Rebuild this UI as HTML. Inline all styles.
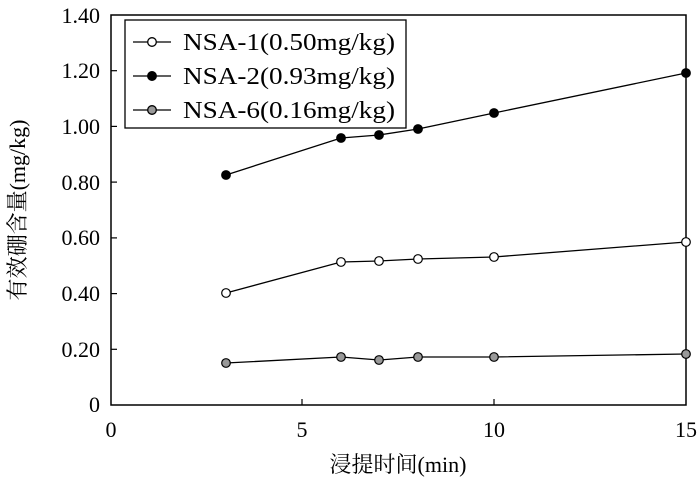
<!DOCTYPE html>
<html><head><style>body{margin:0;background:#fff}</style></head><body>
<svg width="700" height="481" xmlns="http://www.w3.org/2000/svg" font-family="Liberation Serif, Noto Serif CJK SC, serif" font-size="22">
<rect x="111" y="15" width="575" height="390" fill="none" stroke="#000" stroke-width="1.5"/>
<g stroke="#000" stroke-width="1.2">
<line x1="111" y1="349.3" x2="117" y2="349.3"/><line x1="111" y1="293.6" x2="117" y2="293.6"/>
<line x1="111" y1="237.9" x2="117" y2="237.9"/><line x1="111" y1="182.1" x2="117" y2="182.1"/>
<line x1="111" y1="126.4" x2="117" y2="126.4"/><line x1="111" y1="70.7" x2="117" y2="70.7"/>
<line x1="302" y1="405" x2="302" y2="399"/><line x1="494" y1="405" x2="494" y2="399"/>
</g>
<g text-anchor="end">
<text x="100" y="412">0</text><text x="100" y="357">0.20</text><text x="100" y="301">0.40</text>
<text x="100" y="245">0.60</text><text x="100" y="190">0.80</text><text x="100" y="134">1.00</text>
<text x="100" y="78">1.20</text><text x="100" y="23">1.40</text>
</g>
<g text-anchor="middle">
<text x="111" y="437">0</text><text x="302" y="437">5</text><text x="494" y="437">10</text><text x="686" y="437">15</text>
<text x="398" y="472">浸提时间(min)</text>
</g>
<text transform="translate(25,210) rotate(-90)" text-anchor="middle">有效硼含量(mg/kg)</text>
<g stroke="#000" stroke-width="1.3" fill="none">
<polyline points="226,293 341,262 379,261 418,259 494,257 686,242"/>
<polyline points="226,175 341,138 379,135 418,129 494,113 686,73"/>
<polyline points="226,363 341,357 379,360 418,357 494,357 686,354"/>
</g>
<g stroke="#000" stroke-width="1.2">
<g fill="#fff"><circle cx="226" cy="293" r="4.3"/><circle cx="341" cy="262" r="4.3"/><circle cx="379" cy="261" r="4.3"/><circle cx="418" cy="259" r="4.3"/><circle cx="494" cy="257" r="4.3"/><circle cx="686" cy="242" r="4.3"/></g>
<g fill="#000"><circle cx="226" cy="175" r="4.3"/><circle cx="341" cy="138" r="4.3"/><circle cx="379" cy="135" r="4.3"/><circle cx="418" cy="129" r="4.3"/><circle cx="494" cy="113" r="4.3"/><circle cx="686" cy="73" r="4.3"/></g>
<g fill="#999"><circle cx="226" cy="363" r="4.3"/><circle cx="341" cy="357" r="4.3"/><circle cx="379" cy="360" r="4.3"/><circle cx="418" cy="357" r="4.3"/><circle cx="494" cy="357" r="4.3"/><circle cx="686" cy="354" r="4.3"/></g>
</g>
<rect x="125" y="20" width="281" height="108" fill="#fff" stroke="#000" stroke-width="1.3"/>
<g stroke="#000" stroke-width="1.3">
<line x1="133" y1="42" x2="171" y2="42"/><circle cx="152" cy="42" r="4.3" fill="#fff"/>
<line x1="133" y1="76" x2="171" y2="76"/><circle cx="152" cy="76" r="4.3" fill="#000"/>
<line x1="133" y1="110" x2="171" y2="110"/><circle cx="152" cy="110" r="4.3" fill="#999"/>
</g>
<g font-size="24">
<text x="183" y="50" textLength="212" lengthAdjust="spacingAndGlyphs">NSA-1(0.50mg/kg)</text>
<text x="183" y="84" textLength="212" lengthAdjust="spacingAndGlyphs">NSA-2(0.93mg/kg)</text>
<text x="183" y="118" textLength="212" lengthAdjust="spacingAndGlyphs">NSA-6(0.16mg/kg)</text>
</g>
</svg>
</body></html>
